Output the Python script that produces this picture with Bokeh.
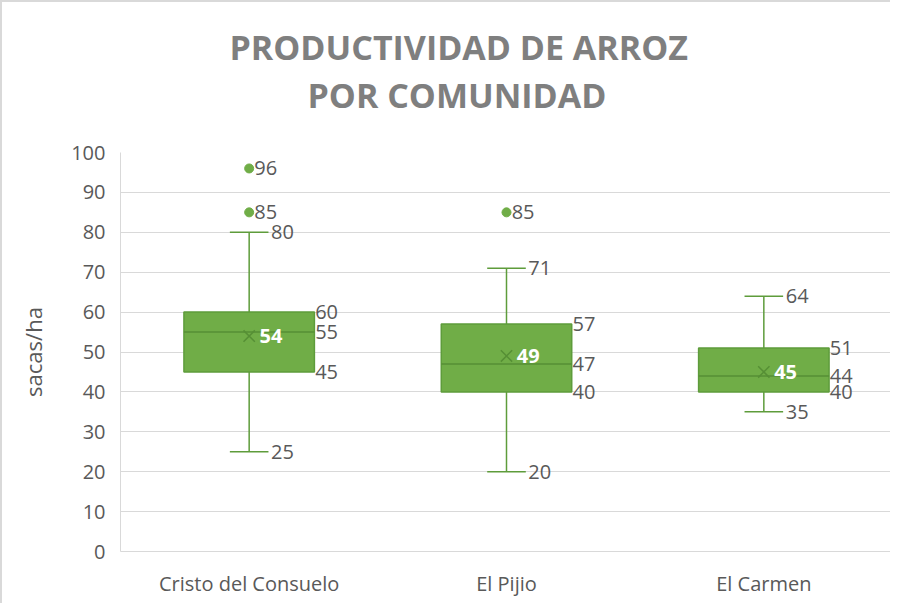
from bokeh.plotting import figure
from bokeh.models import ColumnDataSource, FixedTicker, Range1d, FactorRange, Title
from bokeh.transform import dodge
from bokeh.core.properties import value
from bokeh.embed import file_html
from bokeh.resources import INLINE

# ---- data ----
communities = ["Cristo del Consuelo", "El Pijio", "El Carmen"]
mins = [25, 20, 35]
q1s = [45, 40, 40]
medians = [55, 47, 44]
q3s = [60, 57, 51]
maxs = [80, 71, 64]
means = [54, 49, 45]
outlier_cats = ["Cristo del Consuelo", "Cristo del Consuelo", "El Pijio"]
outlier_vals = [96, 85, 85]
y_ticks = [0, 10, 20, 30, 40, 50, 60, 70, 80, 90, 100]
title_lines = ["PRODUCTIVIDAD DE ARROZ", "POR COMUNIDAD"]
y_label = "sacas/ha"

# ---- style ----
FONT = "Open Sans"
GREEN = "#70AD47"
GREEN_DARK = "#5E9C3B"
TXT = "#595959"
GRID = "#D9D9D9"
BOX_W = 0.507
CAP_W = 0.15

src = ColumnDataSource(dict(
    cat=communities, lo=mins, q1=q1s, med=medians, q3=q3s, hi=maxs, mean=means,
    lo_t=[str(v) for v in mins], q1_t=[str(v) for v in q1s], med_t=[str(v) for v in medians],
    q3_t=[str(v) for v in q3s], hi_t=[str(v) for v in maxs], mean_t=[str(v) for v in means],
))
out_src = ColumnDataSource(dict(cat=outlier_cats, val=outlier_vals,
                                txt=[str(v) for v in outlier_vals]))

p = figure(x_range=FactorRange(*communities), y_range=Range1d(0, 100),
           width=890, height=603, output_backend="svg", toolbar_location=None,
           min_border_left=118, min_border_right=0, min_border_top=150,
           min_border_bottom=54,
           styles={"border-left": "2px solid #D9D9D9", "border-top": "2px solid #D9D9D9"})
p.outline_line_color = None
p.background_fill_color = "white"
p.border_fill_color = "white"

xr = p.x_range
# whiskers
p.segment(x0="cat", y0="q3", x1="cat", y1="hi", source=src, line_color=GREEN_DARK, line_width=1.5)
p.segment(x0="cat", y0="q1", x1="cat", y1="lo", source=src, line_color=GREEN_DARK, line_width=1.5)
p.segment(x0=dodge("cat", -CAP_W / 2, range=xr), y0="hi", x1=dodge("cat", CAP_W / 2, range=xr), y1="hi",
          source=src, line_color=GREEN_DARK, line_width=1.5)
p.segment(x0=dodge("cat", -CAP_W / 2, range=xr), y0="lo", x1=dodge("cat", CAP_W / 2, range=xr), y1="lo",
          source=src, line_color=GREEN_DARK, line_width=1.5)
# boxes
p.vbar(x="cat", width=BOX_W, bottom="q1", top="q3", source=src,
       fill_color=GREEN, line_color=GREEN_DARK, line_width=1.5)
# median
p.segment(x0=dodge("cat", -BOX_W / 2, range=xr), y0="med", x1=dodge("cat", BOX_W / 2, range=xr), y1="med",
          source=src, line_color="#568F35", line_width=1.5)
# mean marker
p.scatter(x="cat", y="mean", source=src, marker="x", size=16, line_color="#568F35", line_width=1.5)
# outliers
p.scatter(x="cat", y="val", source=out_src, marker="circle", size=9, fill_color=GREEN, line_color=GREEN)

lbl = dict(text_font=value(FONT), text_font_size="20px", text_color=TXT,
           text_align="left", text_baseline="middle")
p.text(x=dodge("cat", 0.085, range=xr), y="hi", text="hi_t", source=src, **lbl)
p.text(x=dodge("cat", 0.085, range=xr), y="lo", text="lo_t", source=src, **lbl)
p.text(x=dodge("cat", BOX_W / 2 + 0.003, range=xr), y="q3", text="q3_t", source=src, **lbl)
p.text(x=dodge("cat", BOX_W / 2 + 0.003, range=xr), y="med", text="med_t", source=src, **lbl)
p.text(x=dodge("cat", BOX_W / 2 + 0.003, range=xr), y="q1", text="q1_t", source=src, **lbl)
p.text(x=dodge("cat", 0.02, range=xr), y="val", text="txt", source=out_src, **lbl)
p.text(x=dodge("cat", 0.04, range=xr), y="mean", text="mean_t", source=src,
       text_font=value(FONT), text_font_size="20px", text_color="white", text_font_style="bold",
       text_align="left", text_baseline="middle")

# axes
p.yaxis.ticker = FixedTicker(ticks=y_ticks)
for ax in (p.xaxis[0], p.yaxis[0]):
    ax.axis_line_color = GRID
    ax.major_tick_line_color = None
    ax.minor_tick_line_color = None
    ax.major_tick_out = 0
    ax.major_tick_in = 0
    ax.minor_tick_out = 0
    ax.major_label_text_font = FONT
    ax.major_label_text_color = TXT
p.yaxis.major_label_text_font_size = "20px"
p.yaxis.major_label_standoff = 15
p.yaxis.axis_label = y_label
p.yaxis.axis_label_text_font = FONT
p.yaxis.axis_label_text_font_size = "22px"
p.yaxis.axis_label_text_font_style = "normal"
p.yaxis.axis_label_text_color = TXT
p.yaxis.axis_label_standoff = 20
p.xaxis.major_label_text_font_size = "20px"
p.xaxis.major_label_standoff = 18
p.xgrid.grid_line_color = None
p.ygrid.grid_line_color = GRID

# title lines, with a blank spacer panel between them and the plot area
p.title.text = ""
p.add_layout(Title(text=" ", text_font=FONT, text_font_size="24px", standoff=0), "above")
title_style = dict(text_font=FONT, text_font_size="34px", text_font_style="bold",
                   text_color="#7F7F7F", align="left", vertical_align="bottom", standoff=0)
p.add_layout(Title(text=title_lines[1], offset=187, **title_style), "above")
p.add_layout(Title(text=title_lines[0], offset=109, **title_style), "above")

open("out.html", "w").write(file_html(p, INLINE))
